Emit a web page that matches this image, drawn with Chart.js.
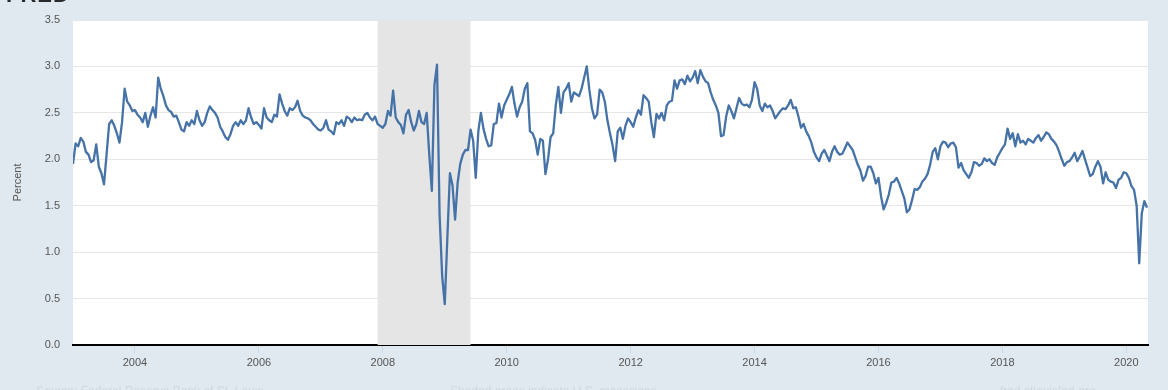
<!DOCTYPE html>
<html>
<head>
<meta charset="utf-8">
<script src="https://cdn.jsdelivr.net/npm/chart.js@4.4.0/dist/chart.umd.min.js"></script>
<style>
html,body{margin:0;padding:0;background:#e1e9f0;overflow:hidden;}
#wrap{position:relative;width:1168px;height:390px;overflow:hidden;}
#logo{position:absolute;left:6px;top:-18px;font:bold 22px "Liberation Sans",Arial,sans-serif;color:#2a2a2a;letter-spacing:1px;}
.foot{position:absolute;top:384px;font:12px "Liberation Sans",Arial,sans-serif;color:#cfd8e1;white-space:nowrap;}
canvas{position:absolute;left:0;top:0;}
</style>
</head>
<body>
<div id="wrap">
<canvas id="c" width="1168" height="390"></canvas>
<div id="logo">FRED</div>
<div class="foot" style="left:36px">Source: Federal Reserve Bank of St. Louis</div>
<div class="foot" style="left:450px">Shaded areas indicate U.S. recessions</div>
<div class="foot" style="left:1000px">fred.stlouisfed.org</div>
</div>
<script>
// Semi-monthly readings (24 per year) starting January 2003
const startYear = 2003;
const perYear = 24;
const values = [
// 2003
1.95,2.17,2.14,2.23,2.19,2.08,2.05,1.97,1.99,2.16,1.92,1.85,1.73,2.05,2.38,2.42,2.36,2.28,2.18,2.40,2.76,2.62,2.58,2.52,
// 2004
2.53,2.48,2.45,2.40,2.50,2.35,2.47,2.56,2.45,2.88,2.76,2.68,2.58,2.53,2.51,2.46,2.47,2.40,2.32,2.30,2.40,2.36,2.42,2.38,
// 2005
2.52,2.42,2.36,2.40,2.50,2.57,2.53,2.50,2.45,2.35,2.30,2.24,2.21,2.27,2.36,2.40,2.36,2.42,2.38,2.42,2.55,2.45,2.38,2.40,
// 2006
2.37,2.33,2.55,2.45,2.42,2.40,2.48,2.46,2.70,2.60,2.52,2.47,2.55,2.53,2.56,2.63,2.52,2.47,2.45,2.44,2.42,2.38,2.35,2.32,
// 2007
2.31,2.34,2.42,2.32,2.30,2.27,2.40,2.38,2.42,2.36,2.46,2.44,2.40,2.45,2.42,2.43,2.42,2.48,2.50,2.45,2.42,2.46,2.38,2.36,
// 2008
2.34,2.38,2.52,2.47,2.74,2.45,2.40,2.37,2.28,2.48,2.53,2.40,2.31,2.38,2.52,2.40,2.38,2.50,2.05,1.66,2.80,3.02,1.40,0.74,
// 2009
0.44,1.15,1.85,1.72,1.35,1.75,1.95,2.05,2.10,2.10,2.32,2.20,1.80,2.30,2.50,2.33,2.22,2.14,2.15,2.38,2.39,2.60,2.45,2.58,
// 2010
2.64,2.70,2.78,2.60,2.46,2.56,2.62,2.76,2.82,2.30,2.28,2.21,2.05,2.22,2.20,1.84,2.00,2.24,2.28,2.58,2.78,2.50,2.72,2.76,
// 2011
2.82,2.62,2.72,2.70,2.68,2.76,2.88,3.00,2.75,2.55,2.44,2.48,2.75,2.72,2.62,2.42,2.28,2.15,1.98,2.30,2.34,2.22,2.36,2.44,
// 2012
2.40,2.35,2.45,2.53,2.48,2.69,2.66,2.62,2.40,2.24,2.49,2.44,2.50,2.42,2.58,2.62,2.63,2.85,2.76,2.85,2.86,2.81,2.90,2.84,
// 2013
2.88,2.95,2.82,2.96,2.89,2.84,2.82,2.72,2.64,2.58,2.50,2.25,2.26,2.46,2.58,2.52,2.44,2.55,2.66,2.60,2.58,2.59,2.56,2.64,
// 2014
2.83,2.76,2.58,2.52,2.60,2.56,2.58,2.52,2.44,2.48,2.52,2.55,2.54,2.58,2.64,2.55,2.56,2.46,2.34,2.38,2.30,2.25,2.18,2.08,
// 2015
2.02,1.98,2.06,2.10,2.04,1.98,2.08,2.14,2.08,2.05,2.06,2.12,2.18,2.14,2.10,2.02,1.94,1.88,1.77,1.82,1.92,1.92,1.85,1.74,
// 2016
1.80,1.60,1.46,1.53,1.62,1.75,1.76,1.80,1.74,1.66,1.58,1.43,1.46,1.56,1.68,1.67,1.70,1.76,1.79,1.84,1.94,2.08,2.12,2.00,
// 2017
2.14,2.19,2.18,2.13,2.17,2.18,2.13,1.91,1.96,1.88,1.84,1.80,1.86,1.97,1.96,1.93,1.95,2.01,1.98,2.00,1.96,1.94,2.02,2.07,
// 2018
2.12,2.16,2.33,2.22,2.28,2.14,2.27,2.18,2.20,2.16,2.22,2.20,2.18,2.23,2.26,2.20,2.24,2.29,2.27,2.22,2.19,2.15,2.08,2.00,
// 2019
1.93,1.97,1.98,2.02,2.07,1.98,2.03,2.09,2.00,1.91,1.82,1.84,1.92,1.98,1.92,1.74,1.86,1.78,1.76,1.75,1.69,1.78,1.80,1.86,
// 2020
1.85,1.80,1.71,1.67,1.50,0.88,1.42,1.55,1.48
];
const xTickYears = [2004, 2006, 2008, 2010, 2012, 2014, 2016, 2018, 2020];
const yTicks = [0, 0.5, 1.0, 1.5, 2.0, 2.5, 3.0, 3.5];
const recessions = [[2007 + 11/12, 2009 + 5/12]];
const xRange = [2003.0, 2020.35];

const periods = values.map((_, i) => startYear + i / perYear);
const points = values.map((v, i) => ({x: periods[i], y: v}));

const FONT = '"Liberation Sans", Arial, sans-serif';

const bgPlugin = {
  id: 'bg',
  beforeDraw(chart) {
    const {ctx, chartArea: a} = chart;
    ctx.save();
    ctx.fillStyle = '#ffffff';
    ctx.fillRect(a.left, a.top, a.right - a.left, a.bottom - a.top);
    ctx.restore();
  },
  beforeDatasetsDraw(chart) {
    const {ctx, chartArea: a, scales: {x}} = chart;
    ctx.save();
    ctx.fillStyle = '#e5e5e5';
    recessions.forEach(([s, e]) => {
      const x0 = x.getPixelForValue(s), x1 = x.getPixelForValue(e);
      ctx.fillRect(x0, a.top, x1 - x0, a.bottom - a.top);
    });
    ctx.restore();
  }
};

new Chart(document.getElementById('c'), {
  type: 'line',
  data: {
    datasets: [{
      data: points,
      borderColor: '#4572a7',
      borderWidth: 2.3,
      pointRadius: 0,
      tension: 0,
      fill: false,
      borderJoinStyle: 'round'
    }]
  },
  options: {
    responsive: false,
    animation: false,
    events: [],
    parsing: false,
    layout: {padding: {top: 20, right: 20, left: 0, bottom: 0}},
    plugins: {legend: {display: false}, tooltip: {enabled: false}},
    scales: {
      x: {
        type: 'linear',
        min: xRange[0],
        max: xRange[1],
        afterBuildTicks: s => { s.ticks = xTickYears.map(v => ({value: v})); },
        afterFit: s => { s.height = 45; },
        ticks: {
          callback: v => String(v),
          color: '#555',
          font: {size: 11, family: FONT},
          padding: 3,
          maxRotation: 0,
          autoSkip: false
        },
        grid: {display: true, drawOnChartArea: false, drawTicks: true, tickLength: 8, color: '#ccd6eb'},
        border: {display: true, color: '#000', width: 2}
      },
      y: {
        min: 0,
        max: 3.5,
        afterBuildTicks: s => { s.ticks = yTicks.map(v => ({value: v})); },
        afterFit: s => { s.width = 73; },
        ticks: {
          callback: v => Number(v).toFixed(1),
          color: '#555',
          font: {size: 11, family: FONT},
          padding: 13
        },
        grid: {color: '#e6e6e6', lineWidth: 1, drawTicks: false},
        border: {display: false},
        title: {display: true, text: 'Percent', color: '#555', font: {size: 11, family: FONT}, padding: {top: 11, bottom: 0}}
      }
    }
  },
  plugins: [bgPlugin]
});
</script>
</body>
</html>
